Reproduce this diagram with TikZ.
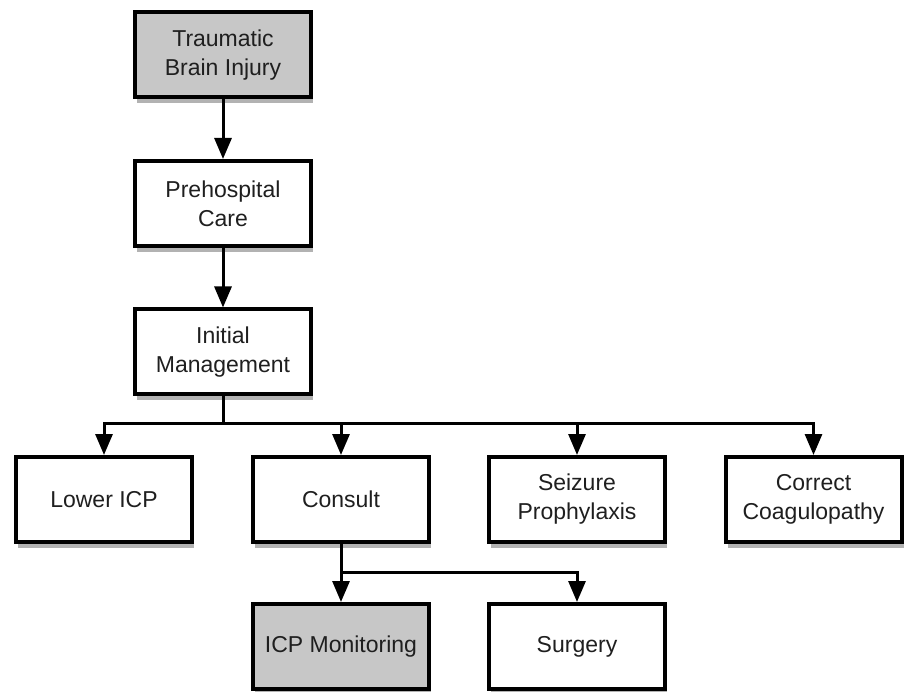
\documentclass[tikz,border=0pt]{standalone}
\usepackage{fontspec}
\setmainfont{Liberation Sans}
\usetikzlibrary{arrows.meta,shadows}
\tikzstyle{stage}=[rectangle,draw=black,line width=4pt,fill=white,minimum width=176pt,minimum height=85pt,inner sep=2pt,align=center,text=black!88,font=\fontsize{23pt}{29pt}\selectfont,drop shadow={shadow xshift=2pt,shadow yshift=-6pt,opacity=0.3,fill=black}]
\tikzstyle{shaded}=[stage,fill=black!22]
\tikzstyle{edge}=[draw,line width=3pt,-{Triangle[length=21pt,width=17pt]}]

\begin{document}
\begin{tikzpicture}[x=1pt,y=-1pt]
    \useasboundingbox[fill=white] (0,0) rectangle (905,692);
    % First the stages down the left column
    \node[shaded] (tbi) at (223,55) {Traumatic\\Brain Injury};
    \node[stage] (prehosp) at (223,203.5) {Prehospital\\Care};
    \node[stage] (init) at (223,352) {Initial\\Management};
    % Then the four branches
    \foreach \pos/\name/\txt in {{(104,499.5)/lowericp/{Lower ICP}}, {(341,499.5)/consult/{Consult}}, {(577,499.5)/seizure/{Seizure\\Prophylaxis}}, {(813.5,499.5)/coag/{Correct\\Coagulopathy}}}
        \node[stage] (\name) at \pos {\txt};
    % And the two after the consult
    \node[shaded] (icpmon) at (341,646.5) {ICP Monitoring};
    \node[stage] (surgery) at (577,646.5) {Surgery};

    % Connect stages with arrows
    \coordinate (split) at (223,424);
    \coordinate (splitb) at (341,572);
    \path[edge] (tbi) -- (prehosp);
    \path[edge] (prehosp) -- (init);
    \foreach \dest in {lowericp, consult, seizure, coag}
        \path[edge] (init.south) -- (split) -| (\dest.north);
    \foreach \dest in {icpmon, surgery}
        \path[edge] (consult.south) -- (splitb) -| (\dest.north);
\end{tikzpicture}
\end{document}
